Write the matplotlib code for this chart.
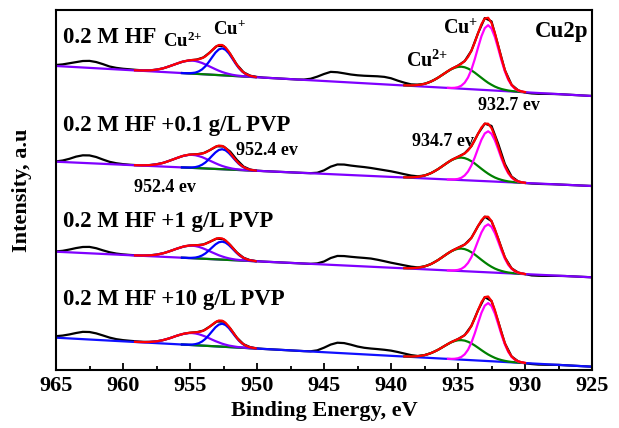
import numpy as np
import matplotlib
matplotlib.use('Agg')
import matplotlib.pyplot as plt
from matplotlib.transforms import Affine2D
from matplotlib.ticker import MultipleLocator

plt.rcParams['font.family'] = ['Liberation Serif', 'DejaVu Serif']
plt.rcParams['font.weight'] = 'bold'
plt.rcParams['mathtext.fontset'] = 'custom'
plt.rcParams['mathtext.rm'] = 'Liberation Serif:bold'
plt.rcParams['mathtext.it'] = 'Liberation Serif:bold'
plt.rcParams['mathtext.bf'] = 'Liberation Serif:bold'

# ---------------- data (heights above the linear background) ----------------
samples = ['0.2 M HF', '0.2 M HF +0.1 g/L PVP', '0.2 M HF +1 g/L PVP', '0.2 M HF +10 g/L PVP']
x_ticks = [965, 960, 955, 950, 945, 940, 935, 930, 925]

# linear background: value at 965 eV and at 925 eV
BG_E = [965, 925]
bg_start = [304.0, 208.3, 118.3, 32.3]
bg_end = [274.0, 184.0, 92.7, 3.3]

# raw spectrum energies
E_RAW = [965.0, 964.5, 964.0, 963.5, 963.0, 962.5, 962.0, 961.5, 961.0, 960.5,
         960.0, 959.5, 959.0, 958.5, 958.0, 957.5, 957.0, 956.5, 956.0, 955.5,
         955.0, 954.5, 954.0, 953.5, 953.0, 952.5, 952.0, 951.5, 951.0, 950.5,
         950.0, 949.5, 949.0, 948.5, 948.0, 947.5, 947.0, 946.5, 946.0, 945.5,
         945.0, 944.5, 944.0, 943.5, 943.0, 942.5, 942.0, 941.5, 941.0, 940.5,
         940.0, 939.5, 939.0, 938.5, 938.0, 937.5, 937.0, 936.5, 936.0, 935.5,
         935.0, 934.5, 934.0, 933.5, 933.0, 932.5, 932.0, 931.5, 931.0, 930.5,
         930.0, 929.5, 929.0, 928.5, 928.0, 927.5, 927.0, 926.5, 926.0, 925.5, 925.0]

raw_1 = [1.0, 2.0, 3.5, 5.0, 6.5, 7.0, 6.2, 4.5, 2.5, 1.5, 1.0, 0.8, 0.6, 0.5,
         0.9, 2.0, 3.7, 6.3, 9.0, 11.6, 13.2, 14.3, 16.8, 22.4, 29.0, 29.5, 21.8, 11.4, 4.2, 1.1, 0.3,
         0.0, 0.0, 0.0, 0.0, 0.0, 0.0, 0.3,
         1.5, 4.0, 7.0, 9.5, 9.5, 8.8, 8.0, 7.6, 7.5, 7.6, 7.7, 7.5, 6.5, 4.5, 2.8,
         1.5, 1.6, 2.8, 5.6, 9.6, 14.4, 19.1, 22.9, 27.8, 38.5, 56.6, 72.0, 69.0, 45.0, 20.9, 6.7, 1.5, -0.3,
         -0.8, -0.8, -0.5, -0.2, 0.0, 0.0, 0.0, 0.0, 0.0, 0.0]
raw_2 = [0.3, 1.5, 3.5, 6.0, 7.6, 7.8, 6.5, 4.3, 2.3, 1.2, 0.6, 0.3, 0.2, 0.3,
         0.9, 2.0, 3.7, 6.3, 9.0, 11.6, 13.2, 13.8, 15.2, 18.7, 22.7, 22.8, 18.0, 10.0, 3.6, 0.9, 0.2,
         0.0, 0.0, 0.0, 0.0, 0.0, 0.0, 0.0,
         0.1, 0.8, 3.5, 7.5, 10.0, 10.2, 9.5, 9.0, 8.6, 8.0, 7.2, 6.4, 5.6, 4.5, 3.3,
         2.2, 1.8, 2.9, 5.7, 9.8, 14.7, 19.5, 23.1, 26.9, 34.4, 47.2, 57.5, 55.5, 38.0, 18.0, 5.8, 1.2, 0.0,
         -0.3, -0.3, -0.2, 0.0, 0.0, 0.0, 0.0, 0.0, 0.0, 0.0]
raw_3 = [0.3, 1.2, 2.8, 4.6, 6.0, 6.4, 5.4, 3.6, 2.0, 1.0, 0.5, 0.3, 0.2, 0.3,
         0.9, 1.9, 3.6, 6.0, 8.7, 11.1, 12.6, 13.2, 14.3, 17.4, 20.8, 20.5, 15.0, 7.8, 2.9, 0.7, 0.1,
         0.0, 0.0, 0.0, 0.0, 0.0, 0.0, 0.0,
         0.0, 0.8, 3.0, 6.8, 9.2, 9.4, 9.0, 8.7, 8.5, 8.2, 7.3, 6.2, 5.0, 4.0, 3.0,
         2.0, 1.6, 2.9, 5.7, 9.8, 14.7, 19.4, 23.1, 26.7, 33.7, 45.9, 55.5, 51.4, 34.1, 15.7, 5.1, 1.2, 0.0,
         -1.0, -1.0, -0.8, -0.5, -0.2, 0.0, 0.0, 0.0, 0.0, 0.0]
raw_4 = [1.5, 2.5, 4.0, 5.8, 7.3, 7.5, 6.5, 4.8, 3.0, 1.8, 1.2, 0.9, 0.7, 0.6,
         0.9, 1.8, 3.4, 5.7, 8.4, 10.7, 12.2, 13.1, 15.1, 19.7, 24.9, 25.2, 18.7, 9.8, 3.6, 1.0, 0.2,
         0.0, 0.0, 0.0, 0.0, 0.0, 0.0, 0.0,
         0.2, 1.5, 4.5, 8.0, 10.2, 10.2, 9.0, 7.5, 6.6, 6.2, 6.0, 5.7, 5.2, 4.2, 3.0,
         1.8, 1.3, 2.5, 5.0, 8.5, 12.8, 17.0, 20.4, 24.7, 34.3, 50.4, 63.8, 60.3, 40.1, 18.6, 5.9, 1.3, -0.2,
         -0.6, -0.8, -0.6, -0.3, 0.0, 0.0, 0.0, 0.0, 0.0, 0.0]

# Cu 2p3/2 region
E_A = [939.0, 938.75, 938.5, 938.25, 938.0, 937.75, 937.5, 937.25, 937.0, 936.75,
       936.5, 936.25, 936.0, 935.75, 935.5, 935.25, 935.0, 934.75, 934.5, 934.25,
       934.0, 933.75, 933.5, 933.25, 933.0, 932.75, 932.5, 932.25, 932.0, 931.75,
       931.5, 931.25, 931.0, 930.75, 930.5, 930.25, 930.0]
E_MAG = [935.75, 935.5, 935.25, 935.0, 934.75, 934.5, 934.25, 934.0, 933.75, 933.5,
         933.25, 933.0, 932.75, 932.5, 932.25, 932.0, 931.75, 931.5, 931.25, 931.0,
         930.75, 930.5, 930.25, 930.0]

cu2_32_1 = [0.2, 0.3, 0.5, 0.8, 1.3, 1.9, 2.8, 4.0, 5.6, 7.4, 9.6, 12.0, 14.4, 16.8, 18.9, 20.5, 21.6, 22.0,
            21.6, 20.5, 18.9, 16.8, 14.4, 12.0, 9.6, 7.4, 5.6, 4.0, 2.8, 1.9, 1.3, 0.8, 0.5, 0.3, 0.2, 0.1, 0.0]
cu2_32_2 = [0.2, 0.3, 0.5, 0.8, 1.3, 2.0, 2.9, 4.1, 5.7, 7.6, 9.8, 12.2, 14.7, 17.2, 19.3, 21.0, 22.1, 22.5,
            22.1, 21.0, 19.3, 17.2, 14.7, 12.2, 9.8, 7.6, 5.7, 4.1, 2.9, 2.0, 1.3, 0.8, 0.5, 0.3, 0.2, 0.1, 0.0]
cu2_32_3 = [0.2, 0.3, 0.5, 0.8, 1.3, 2.0, 2.9, 4.1, 5.7, 7.6, 9.8, 12.2, 14.7, 17.2, 19.3, 21.0, 22.1, 22.5,
            22.1, 21.0, 19.3, 17.2, 14.7, 12.2, 9.8, 7.6, 5.7, 4.1, 2.9, 2.0, 1.3, 0.8, 0.5, 0.3, 0.2, 0.1, 0.0]
cu2_32_4 = [0.1, 0.3, 0.4, 0.7, 1.1, 1.7, 2.5, 3.6, 5.0, 6.6, 8.5, 10.6, 12.8, 14.9, 16.8, 18.2, 19.2, 19.5,
            19.2, 18.2, 16.8, 14.9, 12.8, 10.6, 8.5, 6.6, 5.0, 3.6, 2.5, 1.7, 1.1, 0.7, 0.4, 0.3, 0.1, 0.1, 0.0]

cu1_32_1 = [0.1, 0.2, 0.5, 1.3, 3.0, 6.2, 11.6, 19.6, 30.2, 42.2, 53.6, 61.9, 65.0,
            61.9, 53.6, 42.2, 30.2, 19.6, 11.6, 6.2, 3.0, 1.3, 0.5, 0.2]
cu1_32_2 = [0.0, 0.2, 0.4, 1.0, 2.3, 4.8, 8.9, 15.1, 23.2, 32.5, 41.3, 47.7, 50.0,
            47.7, 41.3, 32.5, 23.2, 15.1, 8.9, 4.8, 2.3, 1.0, 0.4, 0.2]
cu1_32_3 = [0.0, 0.1, 0.4, 1.0, 2.2, 4.6, 8.5, 14.4, 22.3, 31.2, 39.6, 45.7, 48.0,
            45.7, 39.6, 31.2, 22.3, 14.4, 8.5, 4.6, 2.2, 1.0, 0.4, 0.1]
cu1_32_4 = [0.1, 0.2, 0.5, 1.2, 2.7, 5.5, 10.3, 17.5, 26.9, 37.6, 47.9, 55.3, 58.0,
            55.3, 47.9, 37.6, 26.9, 17.5, 10.3, 5.5, 2.7, 1.2, 0.5, 0.2]

env_32_1 = [0.2, 0.3, 0.5, 0.8, 1.3, 1.9, 2.8, 4.0, 5.6, 7.4, 9.6, 12.0, 14.4, 16.9, 19.1, 21.0, 22.9, 25.0,
            27.8, 32.1, 38.5, 47.0, 56.6, 65.6, 71.5, 72.4, 67.5, 57.6, 45.0, 32.1, 20.9, 12.4, 6.7, 3.3, 1.5, 0.6, 0.2]
env_32_2 = [0.2, 0.3, 0.5, 0.8, 1.3, 2.0, 2.9, 4.1, 5.7, 7.6, 9.8, 12.2, 14.7, 17.2, 19.5, 21.4, 23.1, 24.8,
            26.9, 29.9, 34.4, 40.4, 47.2, 53.5, 57.5, 57.6, 53.4, 45.4, 35.4, 25.2, 16.4, 9.7, 5.3, 2.6, 1.2, 0.5, 0.2]
env_32_3 = [0.2, 0.3, 0.5, 0.8, 1.3, 2.0, 2.9, 4.1, 5.7, 7.6, 9.8, 12.2, 14.7, 17.2, 19.4, 21.4, 23.1, 24.7,
            26.7, 29.5, 33.7, 39.5, 45.9, 51.8, 55.5, 55.6, 51.4, 43.7, 34.1, 24.3, 15.7, 9.3, 5.1, 2.5, 1.2, 0.5, 0.1]
env_32_4 = [0.1, 0.3, 0.4, 0.7, 1.1, 1.7, 2.5, 3.6, 5.0, 6.6, 8.5, 10.6, 12.8, 15.0, 17.0, 18.7, 20.4, 22.2,
            24.7, 28.5, 34.3, 41.8, 50.4, 58.5, 63.8, 64.6, 60.3, 51.5, 40.1, 28.6, 18.6, 11.0, 5.9, 3.0, 1.3, 0.6, 0.2]

# Cu 2p1/2 region
E_B = [959.1, 958.85, 958.6, 958.35, 958.1, 957.85, 957.6, 957.35, 957.1, 956.85,
       956.6, 956.35, 956.1, 955.85, 955.6, 955.35, 955.1, 954.85, 954.6, 954.35,
       954.1, 953.85, 953.6, 953.35, 953.1, 952.85, 952.6, 952.35, 952.1, 951.85,
       951.6, 951.35, 951.1, 950.85, 950.6, 950.35, 950.1]
E_BLUE = [955.6, 955.35, 955.1, 954.85, 954.6, 954.35, 954.1, 953.85, 953.6, 953.35,
          953.1, 952.85, 952.6, 952.35, 952.1, 951.85, 951.6, 951.35, 951.1, 950.85,
          950.6, 950.35, 950.1]
E_SAT = [955.6, 950.1]
sat_h = [0.0, 0.0]

cu2_12_1 = [0.1, 0.2, 0.3, 0.5, 0.7, 1.1, 1.7, 2.4, 3.3, 4.4, 5.7, 7.1, 8.5, 9.9, 11.2, 12.1, 12.8, 13.0,
            12.8, 12.1, 11.2, 9.9, 8.5, 7.1, 5.7, 4.4, 3.3, 2.4, 1.7, 1.1, 0.7, 0.5, 0.3, 0.2, 0.1, 0.1, 0.0]
cu2_12_2 = [0.1, 0.2, 0.3, 0.5, 0.7, 1.1, 1.7, 2.4, 3.3, 4.4, 5.7, 7.1, 8.5, 9.9, 11.2, 12.1, 12.8, 13.0,
            12.8, 12.1, 11.2, 9.9, 8.5, 7.1, 5.7, 4.4, 3.3, 2.4, 1.7, 1.1, 0.7, 0.5, 0.3, 0.2, 0.1, 0.1, 0.0]
cu2_12_3 = [0.1, 0.2, 0.3, 0.5, 0.7, 1.1, 1.6, 2.3, 3.2, 4.2, 5.5, 6.8, 8.2, 9.5, 10.7, 11.7, 12.3, 12.5,
            12.3, 11.7, 10.7, 9.5, 8.2, 6.8, 5.5, 4.2, 3.2, 2.3, 1.6, 1.1, 0.7, 0.5, 0.3, 0.2, 0.1, 0.1, 0.0]
cu2_12_4 = [0.1, 0.2, 0.3, 0.4, 0.7, 1.1, 1.5, 2.2, 3.0, 4.1, 5.2, 6.5, 7.9, 9.2, 10.3, 11.2, 11.8, 12.0,
            11.8, 11.2, 10.3, 9.2, 7.9, 6.5, 5.2, 4.1, 3.0, 2.2, 1.5, 1.1, 0.7, 0.4, 0.3, 0.2, 0.1, 0.1, 0.0]

cu1_12_1 = [0.0, 0.1, 0.2, 0.6, 1.2, 2.6, 4.8, 8.1, 12.5, 17.5, 22.3, 25.7, 27.0,
            25.7, 22.3, 17.5, 12.5, 8.1, 4.8, 2.6, 1.2, 0.6, 0.2]
cu1_12_2 = [0.0, 0.1, 0.2, 0.4, 0.9, 1.9, 3.6, 6.0, 9.3, 13.0, 16.5, 19.1, 20.0,
            19.1, 16.5, 13.0, 9.3, 6.0, 3.6, 1.9, 0.9, 0.4, 0.2]
cu1_12_3 = [0.0, 0.1, 0.1, 0.4, 0.8, 1.7, 3.2, 5.4, 8.4, 11.7, 14.9, 17.2, 18.0,
            17.2, 14.9, 11.7, 8.4, 5.4, 3.2, 1.7, 0.8, 0.4, 0.1]
cu1_12_4 = [0.0, 0.1, 0.2, 0.5, 1.1, 2.2, 4.1, 6.9, 10.7, 14.9, 19.0, 21.9, 23.0,
            21.9, 19.0, 14.9, 10.7, 6.9, 4.1, 2.2, 1.1, 0.5, 0.2]

env_12_1 = [0.1, 0.2, 0.3, 0.5, 0.7, 1.1, 1.7, 2.4, 3.3, 4.4, 5.7, 7.1, 8.5, 9.9, 11.2, 12.2, 13.0, 13.6,
            14.0, 14.7, 16.0, 18.0, 21.0, 24.6, 28.0, 30.1, 30.3, 28.1, 24.0, 18.6, 13.2, 8.6, 5.1, 2.8, 1.3, 0.7, 0.2]
env_12_2 = [0.1, 0.2, 0.3, 0.5, 0.7, 1.1, 1.7, 2.4, 3.3, 4.4, 5.7, 7.1, 8.5, 9.9, 11.2, 12.2, 13.0, 13.4,
            13.7, 14.0, 14.8, 15.9, 17.8, 20.1, 22.2, 23.5, 23.3, 21.5, 18.2, 14.1, 10.0, 6.5, 3.9, 2.1, 1.0, 0.5, 0.2]
env_12_3 = [0.1, 0.2, 0.3, 0.5, 0.7, 1.1, 1.6, 2.3, 3.2, 4.2, 5.5, 6.8, 8.2, 9.5, 10.7, 11.8, 12.4, 12.9,
            13.1, 13.4, 13.9, 14.9, 16.6, 18.5, 20.4, 21.4, 21.2, 19.5, 16.5, 12.8, 9.1, 5.9, 3.5, 1.9, 0.9, 0.5, 0.1]
env_12_4 = [0.1, 0.2, 0.3, 0.4, 0.7, 1.1, 1.5, 2.2, 3.0, 4.1, 5.2, 6.5, 7.9, 9.2, 10.3, 11.3, 12.0, 12.5,
            12.9, 13.4, 14.4, 16.1, 18.6, 21.4, 24.2, 26.0, 26.0, 24.1, 20.5, 16.0, 11.4, 7.3, 4.4, 2.4, 1.2, 0.6, 0.2]

raw = [raw_1, raw_2, raw_3, raw_4]
cu2_32 = [cu2_32_1, cu2_32_2, cu2_32_3, cu2_32_4]
cu1_32 = [cu1_32_1, cu1_32_2, cu1_32_3, cu1_32_4]
env_32 = [env_32_1, env_32_2, env_32_3, env_32_4]
cu2_12 = [cu2_12_1, cu2_12_2, cu2_12_3, cu2_12_4]
cu1_12 = [cu1_12_1, cu1_12_2, cu1_12_3, cu1_12_4]
env_12 = [env_12_1, env_12_2, env_12_3, env_12_4]

# ---------------- figure ----------------
W, H = 619, 428
fig = plt.figure(figsize=(W / 100, H / 100), dpi=100)
ax = fig.add_axes([56 / W, 1 - 370 / H, 536 / W, 360 / H])
ax.set_xlim(965, 925)
ax.set_ylim(0, 360)

LW = 1.6
C_VIOLET = '#7f00ff'
bg_colors = [C_VIOLET, C_VIOLET, C_VIOLET, '#1010ff']

for s in range(4):
    k = (bg_end[s] - bg_start[s]) / (BG_E[1] - BG_E[0])
    off = bg_start[s] - BG_E[0] * k
    tr = Affine2D(np.array([[1.0, 0.0, 0.0], [k, 1.0, off], [0.0, 0.0, 1.0]])) + ax.transData
    ax.plot(E_RAW, raw[s], color='black', lw=LW, transform=tr, zorder=2)
    ax.plot(BG_E, [bg_start[s], bg_end[s]], color=bg_colors[s], lw=LW, zorder=2.5)
    ax.plot(E_SAT, sat_h, color='#008000', lw=LW, transform=tr, zorder=2.8)
    ax.plot(E_A, cu2_32[s], color='#008000', lw=LW, transform=tr, zorder=3)
    ax.plot(E_MAG, cu1_32[s], color='#ff00ff', lw=LW, transform=tr, zorder=3.1)
    ax.plot(E_B, cu2_12[s], color=C_VIOLET, lw=LW, transform=tr, zorder=3.2)
    ax.plot(E_BLUE, cu1_12[s], color='#0000ff', lw=LW, transform=tr, zorder=3.3)
    ax.plot(E_A, env_32[s], color='#ff0000', lw=LW, transform=tr, zorder=4)
    ax.plot(E_B, env_12[s], color='#ff0000', lw=LW, transform=tr, zorder=4)

# sample labels
label_y = [327, 238.5, 143.5, 64.5]
for s in range(4):
    ax.text(964.5, label_y[s], samples[s], fontsize=16.5, fontweight='bold',
            ha='left', va='baseline')

# annotations
ax.text(957.0, 323, r'Cu$^{2{+}}$', fontsize=13.5, ha='left', va='baseline')
ax.text(953.3, 336, r'Cu$^{+}$', fontsize=13.5, ha='left', va='baseline')
ax.text(938.9, 303.5, r'Cu$^{2{+}}$', fontsize=14.5, ha='left', va='baseline')
ax.text(936.1, 336, r'Cu$^{+}$', fontsize=14.5, ha='left', va='baseline')
ax.text(925.3, 333, 'Cu2p', fontsize=16.5, ha='right', va='baseline')
ax.text(933.5, 259.5, '932.7 ev', fontsize=13, ha='left', va='baseline')
ax.text(938.4, 223.5, '934.7 ev', fontsize=13, ha='left', va='baseline')
ax.text(951.6, 215, '952.4 ev', fontsize=13, ha='left', va='baseline')
ax.text(959.2, 178.5, '952.4 ev', fontsize=13, ha='left', va='baseline')

# axes styling
ax.set_xticks(x_ticks)
ax.set_xticklabels([str(t) for t in x_ticks])
ax.xaxis.set_minor_locator(MultipleLocator(2.5))
ax.tick_params(axis='x', which='major', direction='in', length=5, width=1.3,
               labelsize=16, pad=4, top=False)
ax.tick_params(axis='x', which='minor', direction='in', length=3, width=1.3, top=False)
ax.set_yticks([])
for sp in ax.spines.values():
    sp.set_linewidth(1.5)

ax.set_xlabel('Binding Energy, eV', fontsize=16, fontweight='bold', labelpad=4)
ax.set_ylabel('Intensity, a.u', fontsize=16, fontweight='bold')
ax.yaxis.set_label_coords(-0.045, 0.5)

fig.savefig('out.png', dpi=100, facecolor='white')
